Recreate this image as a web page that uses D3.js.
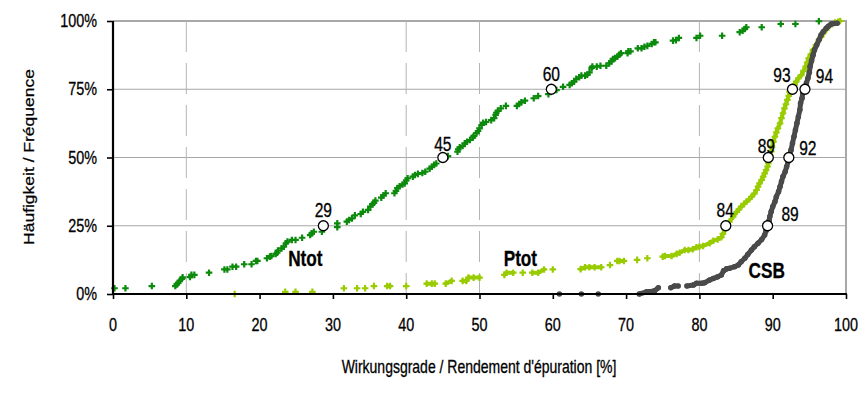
<!DOCTYPE html>
<html>
<head>
<meta charset="utf-8">
<style>
  body { margin: 0; background: #ffffff; }
  svg text { font-family: "Liberation Sans", Arial, sans-serif; fill: #000; stroke: #000; stroke-width: 0.3px; }
</style>
</head>
<body>
<svg id="chart" width="868" height="396"></svg>
<script src="https://d3js.org/d3.v7.min.js"></script>
<script>
// ---- data ----
const xTicks = [0, 10, 20, 30, 40, 50, 60, 70, 80, 90, 100];
const yTicks = [0, 25, 50, 75, 100];
const dashedX = [10, 40, 50, 80];

// [Wirkungsgrad %, Häufigkeit %]
const ntot = [
  [0.2,2.1],[1.7,2.1],[5.3,2.9],[8.5,2.9],[8.7,3.5],[8.9,4.1],[9.1,4.8],[9.4,5.5],[9.5,6.1],
  [10.5,6.2],[10.7,7.0],[11.1,7.0],[13.1,7.8],[15.2,9.0],[15.6,9.0],[16.3,10.0],[16.8,10.0],
  [17.9,10.9],[18.9,10.9],[19.5,12.1],[19.7,12.1],[21.0,13.1],[21.4,13.7],[21.6,13.9],[22.2,14.7],
  [22.4,15.1],[22.5,15.9],[23.0,16.7],[23.3,17.3],[23.6,18.6],[23.8,19.2],[24.4,19.8],[24.9,19.8],
  [25.8,20.6],[26.9,21.6],[27.1,22.2],[27.4,22.8],[28.5,22.8],[30.6,24.5],[30.6,25.9],[31.9,26.5],
  [32.2,27.1],[32.6,27.7],[33.0,28.8],[33.8,29.3],[34.1,30.1],[34.8,30.8],[35.1,32.0],[35.4,32.9],
  [35.6,33.4],[35.8,34.2],[36.6,35.3],[36.9,36.1],[37.2,36.9],[38.4,36.9],[38.6,37.8],[38.8,38.8],
  [39.1,39.5],[39.5,40.1],[39.8,40.5],[40.0,41.6],[40.2,42.4],[40.9,43.0],[41.2,43.6],[41.6,44.0],
  [42.2,44.3],[42.6,44.8],[43.2,45.9],[43.5,46.6],[43.8,47.3],[44.1,47.8],[45.7,50.5],[47.0,52.1],
  [47.1,53.0],[47.3,53.7],[47.7,54.2],[48.0,55.2],[48.3,55.8],[48.7,56.4],[49.1,57.3],[49.2,57.9],
  [49.6,58.9],[49.8,59.7],[50.0,60.7],[50.3,61.9],[50.5,62.7],[50.9,63.0],[51.6,63.7],[52.0,64.4],
  [52.2,65.6],[52.3,66.4],[52.5,67.1],[52.9,68.0],[53.6,68.9],[55.1,68.9],[55.4,69.6],[55.7,70.2],
  [56.2,70.8],[57.4,71.7],[58.0,72.5],[59.4,73.2],[60.5,74.7],[61.4,75.9],[62.3,76.6],[62.6,77.2],
  [62.9,77.8],[63.2,78.8],[63.6,79.4],[63.9,80.0],[64.4,80.0],[64.7,80.3],[65.0,81.2],[65.3,82.8],
  [65.4,83.3],[66.0,83.3],[66.5,83.6],[67.3,83.6],[67.7,84.5],[68.0,85.2],[68.2,86.1],[68.5,86.4],
  [68.8,86.9],[69.1,87.7],[69.3,88.2],[70.2,88.2],[70.3,88.9],[70.6,88.9],[71.6,90.0],[72.1,90.0],
  [72.5,90.6],[72.9,90.9],[73.5,91.6],[73.8,92.2],[74.0,92.2],[76.4,92.8],[76.8,93.0],[77.2,93.8],
  [79.6,93.8],[80.1,94.6],[83.1,94.6],[85.5,95.9],[85.9,96.4],[86.2,97.1],[86.4,97.7],[88.5,97.7],
  [91.1,98.9],[93.1,98.9],[96.3,99.9]
];

const ptot = [
  [16.6,0.0],[23.5,0.8],[24.9,0.8],[27.2,0.8],[31.5,2.1],[33.3,2.1],[34.4,2.1],[35.6,2.9],
  [37.4,2.9],[37.8,2.9],[40.0,2.9],[42.8,3.8],[43.5,3.8],[43.9,3.8],[45.4,3.8],[46.2,4.8],
  [47.7,4.8],[48.2,4.8],[48.5,6.0],[49.2,6.0],[50.0,6.0],[53.4,7.0],[53.7,7.8],[54.6,7.8],
  [55.9,7.8],[57.2,7.8],[58.0,7.8],[58.8,9.0],[60.0,9.0],[63.8,9.1],[64.4,9.8],[65.0,9.8],
  [65.7,9.8],[66.6,9.8],[67.8,10.6],[68.8,12.1],[69.1,12.1],[69.7,12.1],[71.5,12.5],[72.9,13.1],
  [75.0,13.7],[75.3,13.9],[76.2,13.9],[76.9,14.7],[77.3,15.1],[78.0,16.1],[78.5,16.1],[79.1,16.4],
  [79.6,17.1],[80.0,17.3],[80.5,17.6],[81.4,18.6],[81.9,19.5],[82.5,20.0],[83.0,20.8],[83.2,22.0],
  [83.5,23.5],[83.8,25.5],[84.1,26.5],[84.6,28.3],[85.1,30.1],[85.4,31.0],[85.7,32.0],[86.1,33.0],
  [86.4,33.8],[86.8,34.7],[87.1,35.6],[87.5,36.8],[87.8,38.1],[88.0,39.3],[88.2,40.5],[88.5,41.8],
  [88.7,43.0],[88.9,44.2],[89.1,45.4],[89.3,46.7],[89.4,47.9],[89.5,49.1],[89.6,50.5],[89.8,52.2],
  [89.9,54.0],[90.1,55.8],[90.3,57.6],[90.5,59.2],[90.7,60.7],[91.0,62.5],[91.2,64.4],[91.4,66.2],
  [91.6,68.0],[91.8,69.5],[92.0,71.1],[92.2,72.6],[92.3,74.1],[92.7,75.5],[93.0,76.7],[93.2,77.8],
  [93.5,79.0],[93.9,80.2],[94.2,81.7],[94.5,83.3],[94.7,84.8],[94.9,86.3],[95.2,87.8],[95.5,89.4],
  [95.9,91.2],[96.3,93.0],[96.6,94.2],[96.9,95.5],[97.3,96.8],[97.7,98.2],[98.1,98.8],[98.5,99.4],
  [98.9,99.7],[99.2,100.0]
];

const csb = [
  [60.9,0.0],[63.9,0.0],[66.2,0.0],[71.8,0.0],[72.8,0.8],[73.2,0.8],[73.9,1.2],[74.4,2.3],
  [76.1,2.3],[76.6,2.9],[77.1,2.9],[78.3,2.9],[79.2,3.3],[79.6,3.9],[80.3,3.9],[80.7,4.1],
  [81.4,5.1],[81.9,5.7],[82.5,6.3],[83.0,7.0],[83.3,8.5],[83.7,9.2],[84.1,9.4],[84.8,10.0],
  [85.3,10.6],[85.7,11.8],[86.2,13.1],[86.6,14.5],[87.1,16.1],[87.5,17.3],[88.0,18.6],[88.5,20.0],
  [88.9,21.6],[89.1,23.2],[89.3,25.0],[89.5,26.8],[89.6,28.3],[89.8,30.2],[90.0,32.0],[90.3,33.8],
  [90.5,35.6],[90.8,37.5],[91.0,39.3],[91.2,41.2],[91.4,43.0],[91.7,44.8],[91.9,46.6],[92.1,48.5],
  [92.2,50.3],[92.5,52.7],[92.7,55.2],[92.9,57.6],[93.1,60.1],[93.3,62.5],[93.5,64.9],[93.7,67.4],
  [93.8,69.9],[94.0,71.7],[94.1,73.5],[94.4,75.5],[94.6,77.3],[94.8,79.0],[95.0,81.2],[95.1,83.3],
  [95.3,85.4],[95.5,87.5],[95.7,89.4],[96.0,91.2],[96.3,93.0],[96.6,94.9],[96.9,96.1],[97.3,97.3],
  [97.6,98.1],[98.0,98.9],[98.4,99.1],[98.8,99.2]
];

// quartile markers: [x, p, label]
const ntotQ = [[28.7,25,"29"],[45.0,50,"45"],[59.8,75,"60"]];
const ptotQ = [[83.6,25,"84"],[89.4,50,"89"],[92.7,75,"93"]];
const csbQ  = [[89.3,25,"89"],[92.2,50,"92"],[94.4,75,"94"]];

const seriesNames = ["Ntot", "Ptot", "CSB"];
const seriesColors = ["#0b8a0b", "#99cc00", "#4a4a4a"];

// ---- layout ----
const svg = d3.select("#chart");
const sx = 0.8; // the original text is horizontally condensed
const x = d3.scaleLinear().domain([0, 100]).range([113, 846]);
const y = d3.scaleLinear().domain([0, 100]).range([294, 21]);

function txt(px, py, s, size, anchor, weight) {
  return svg.append("text")
    .attr("transform", `translate(${px},${py}) scale(${sx},1)`)
    .attr("text-anchor", anchor || "middle")
    .style("font-size", size + "px")
    .style("font-weight", weight || "normal")
    .text(s);
}

// grid
svg.append("g").selectAll("line").data(yTicks.filter(d => d > 0)).join("line")
  .attr("x1", x(0)).attr("x2", x(100))
  .attr("y1", d => y(d)).attr("y2", d => y(d))
  .attr("stroke", d => d == 100 ? "#a8a8a8" : "#a6a6a6")
  .attr("stroke-width", d => d == 100 ? 2 : 1);

svg.append("g").selectAll("line").data(dashedX).join("line")
  .attr("x1", d => x(d)).attr("x2", d => x(d))
  .attr("y1", y(100)).attr("y2", y(0))
  .attr("stroke", "#b4b4b4").attr("stroke-width", 1)
  .attr("stroke-dasharray", "31,11");

svg.append("line")
  .attr("x1", x(100)).attr("x2", x(100)).attr("y1", y(100) - 1).attr("y2", y(0))
  .attr("stroke", "#a8a8a8").attr("stroke-width", 2);

// series
const sets = [ptot, ntot, csb];
const setIdx = [1, 0, 2];
const joinWidth = { 1: 4, 2: 5 };

sets.forEach((data, k) => {
  const i = setIdx[k];
  const col = seriesColors[i];
  const g = svg.append("g");
  // connect tightly packed points so the dense parts read as a band
  if (joinWidth[i]) {
    for (let j = 1; j < data.length; j++) {
      const a = data[j - 1], b = data[j];
      const dx = x(b[0]) - x(a[0]), dy = y(b[1]) - y(a[1]);
      if (Math.hypot(dx, dy) < 8) {
        g.append("line")
          .attr("x1", x(a[0])).attr("y1", y(a[1]))
          .attr("x2", x(b[0])).attr("y2", y(b[1]))
          .attr("stroke", col).attr("stroke-width", joinWidth[i])
          .attr("stroke-linecap", "round");
      }
    }
  }
  const sym = d3.symbol().type(i == 2 ? d3.symbolCircle : d3.symbolCross).size(i == 2 ? 24 : 24);
  g.selectAll("path").data(data).join("path")
    .attr("d", sym)
    .attr("transform", d => `translate(${x(d[0])},${y(d[1])})`)
    .attr("fill", col);
});

// axes
const xAxis = d3.axisBottom(x).tickValues(xTicks).tickSize(5).tickFormat("");
const gx = svg.append("g").attr("transform", `translate(0,${y(0)})`).call(xAxis);
const yAxis = d3.axisLeft(y).tickValues(yTicks).tickSize(6).tickFormat("");
const gy = svg.append("g").attr("transform", `translate(${x(0)},0)`).call(yAxis);
[gx, gy].forEach(g => {
  g.select(".domain").attr("stroke", "#000").attr("stroke-width", 2.2);
  g.selectAll(".tick line").attr("stroke", "#000").attr("stroke-width", 1.6);
});
gy.select(".domain").attr("d", `M0,${y(100)}V${y(0)}`);
gx.select(".domain").attr("d", `M${x(0) - 1},0H${x(100) + 1}`);

xTicks.forEach(t => txt(x(t), 331, String(t), 18));
yTicks.forEach(t => txt(97, y(t) + 6, t + "%", 18, "end"));

// axis titles
svg.append("text")
  .attr("transform", `translate(34,157) scale(${sx},1) rotate(-90)`)
  .attr("text-anchor", "middle")
  .style("font-size", "17.5px")
  .text("Häufigkeit / Fréquence");
txt(479, 373, "Wirkungsgrade / Rendement d'épuration [%]", 17.5);

// quartile circles + numbers
const qOffsets = {
  Ntot: [[0, -9], [0, -7], [0, -8.5]],
  Ptot: [[-0.5, -8.5], [-2, -5], [-10.5, -7.5]],
  CSB:  [[22.5, -5], [19, -3], [19.5, -6]]
};
[ntotQ, ptotQ, csbQ].forEach((qs, i) => {
  qs.forEach((q, j) => {
    svg.append("circle")
      .attr("cx", x(q[0])).attr("cy", y(q[1])).attr("r", 5)
      .attr("fill", "#fff").attr("stroke", "#000").attr("stroke-width", 1.3);
    const off = qOffsets[seriesNames[i]][j];
    txt(x(q[0]) + off[0], y(q[1]) + off[1], q[2], 19.5);
  });
});

// series names
const nameAt = [[23.9, 10.3], [53.3, 10.3], [86.7, 6.0]];
seriesNames.forEach((n, i) => txt(x(nameAt[i][0]), y(nameAt[i][1]), n, 21.5, "start", "bold"));
</script>
</body>
</html>
